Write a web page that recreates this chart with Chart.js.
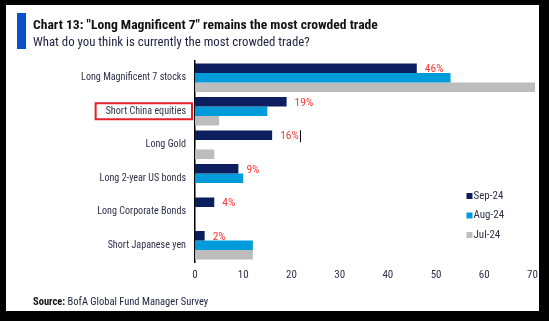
<!DOCTYPE html>
<html>
<head>
<meta charset="utf-8">
<script src="https://cdn.jsdelivr.net/npm/chart.js@4.4.1/dist/chart.umd.min.js"></script>
<style>
  html, body { margin: 0; padding: 0; background: #fff; }
  #wrap { position: relative; width: 549px; height: 321px; }
</style>
</head>
<body>
<div id="wrap"><canvas id="c" width="549" height="321"></canvas></div>
<script>
// Survey answers: share of respondents naming each trade as the most crowded (%)
const categories = [
  'Long Magnificent 7 stocks',
  'Short China equities',
  'Long Gold',
  'Long 2-year US bonds',
  'Long Corporate Bonds',
  'Short Japanese yen'
];
const seriesNames = ['Sep-24', 'Aug-24', 'Jul-24'];
const sep24 = [46, 19, 16, 9, 4, 2];
const aug24 = [53, 15, 0, 10, 0, 12];
const jul24 = [71, 5, 4, 0, 0, 12];
const xTickValues = [0, 10, 20, 30, 40, 50, 60, 70];

const titleText = 'Chart 13: "Long Magnificent 7" remains the most crowded trade';
const subtitleText = 'What do you think is currently the most crowded trade?';
const sourceBold = 'Source:';
const sourceText = ' BofA Global Fund Manager Survey';
const highlighted = 'Short China equities';

const FONT = '"Liberation Sans Narrow", "Arial Narrow", "Roboto Condensed", Roboto, sans-serif';
const NAVY = '#0b1f5e';
const CYAN = '#009bdb';
const GREY = '#bdbdbd';
const RED = '#f23c3c';
const TEXT = '#2e3148';

// Frame, heading and source line
const framePlugin = {
  id: 'frame',
  beforeDraw(chart) {
    const ctx = chart.ctx;
    ctx.save();
    ctx.fillStyle = '#000';
    ctx.fillRect(0, 0, chart.width, chart.height);
    ctx.fillStyle = '#fff';
    ctx.fillRect(6, 5, 533, 306);
    ctx.fillStyle = '#0a50c8';
    ctx.fillRect(17, 13, 9, 36);
    ctx.textBaseline = 'alphabetic';
    ctx.textAlign = 'left';
    ctx.fillStyle = '#111';
    ctx.font = 'bold 13.6px ' + FONT;
    ctx.fillText(titleText, 33, 29);
    ctx.fillStyle = '#1c2140';
    ctx.font = '12.8px ' + FONT;
    ctx.fillText(subtitleText, 33, 46);
    ctx.font = 'bold 10.5px ' + FONT;
    ctx.fillStyle = '#111';
    ctx.fillText(sourceBold, 33, 305);
    const w = ctx.measureText(sourceBold).width;
    ctx.font = '10.5px ' + FONT;
    ctx.fillStyle = '#1c2140';
    ctx.fillText(sourceText, 33 + w, 305);
    ctx.restore();
  }
};

// Value labels on the latest month, legend and the highlighted category
const annotatePlugin = {
  id: 'annotate',
  afterDraw(chart) {
    const ctx = chart.ctx;
    const meta = chart.getDatasetMeta(0);
    ctx.save();
    ctx.font = '11.5px ' + FONT;
    ctx.fillStyle = RED;
    ctx.textBaseline = 'middle';
    ctx.textAlign = 'left';
    meta.data.forEach((bar, i) => {
      const label = sep24[i] + '%';
      const x = bar.x + 8;
      const y = bar.y + 1;
      ctx.fillText(label, x, y);
      if (categories[i] === 'Long Gold') {
        const tw = ctx.measureText(label).width;
        ctx.fillStyle = '#000';
        ctx.fillRect(Math.round(x + tw + 1), y - 6, 1, 12);
        ctx.fillStyle = RED;
      }
    });

    // legend
    const lx = chart.chartArea.right - 66;
    const ly = 196;
    ctx.font = '11px ' + FONT;
    chart.data.datasets.forEach((ds, i) => {
      const y = ly + i * 19.5;
      ctx.fillStyle = ds.backgroundColor;
      ctx.fillRect(lx, y - 3, 6, 6);
      ctx.fillStyle = TEXT;
      ctx.fillText(ds.label, lx + 7, y);
    });

    // red outline around one category label
    const yScale = chart.scales.y;
    const idx = categories.indexOf(highlighted);
    const cy = yScale.getPixelForValue(idx);
    ctx.font = '10.1px ' + FONT;
    const tw = ctx.measureText(highlighted).width;
    const right = chart.chartArea.left - 9;
    ctx.strokeStyle = '#e3202b';
    ctx.lineWidth = 2;
    ctx.strokeRect(right - tw - 10, cy - 8, tw + 16, 16);
    ctx.restore();
  }
};

new Chart(document.getElementById('c'), {
  type: 'bar',
  data: {
    labels: categories,
    datasets: [
      { label: seriesNames[0], data: sep24, backgroundColor: NAVY },
      { label: seriesNames[1], data: aug24, backgroundColor: CYAN },
      { label: seriesNames[2], data: jul24, backgroundColor: GREY,
        clip: { left: false, top: false, bottom: false, right: 2.5 } }
    ]
  },
  options: {
    indexAxis: 'y',
    responsive: false,
    animation: false,
    devicePixelRatio: 1,
    barPercentage: 1,
    categoryPercentage: 0.85,
    layout: { padding: { left: 0, right: 16.5, top: 61, bottom: 29 } },
    plugins: {
      legend: { display: false },
      tooltip: { enabled: false },
      title: { display: false }
    },
    scales: {
      x: {
        min: 0, max: 70,
        afterBuildTicks(scale) { scale.ticks = xTickValues.map(v => ({ value: v })); },
        afterFit(scale) { scale.height = 30; },
        grid: { display: false, drawTicks: false },
        border: { display: false },
        ticks: { padding: 7, color: TEXT, font: { family: FONT, size: 11 } }
      },
      y: {
        afterFit(scale) { scale.width = 195; },
        grid: { display: false, drawTicks: false },
        border: { display: true, color: '#000', width: 1.5 },
        ticks: { padding: 9, color: TEXT, font: { family: FONT, size: 10.1 } }
      }
    }
  },
  plugins: [framePlugin, annotatePlugin]
});
</script>
</body>
</html>
